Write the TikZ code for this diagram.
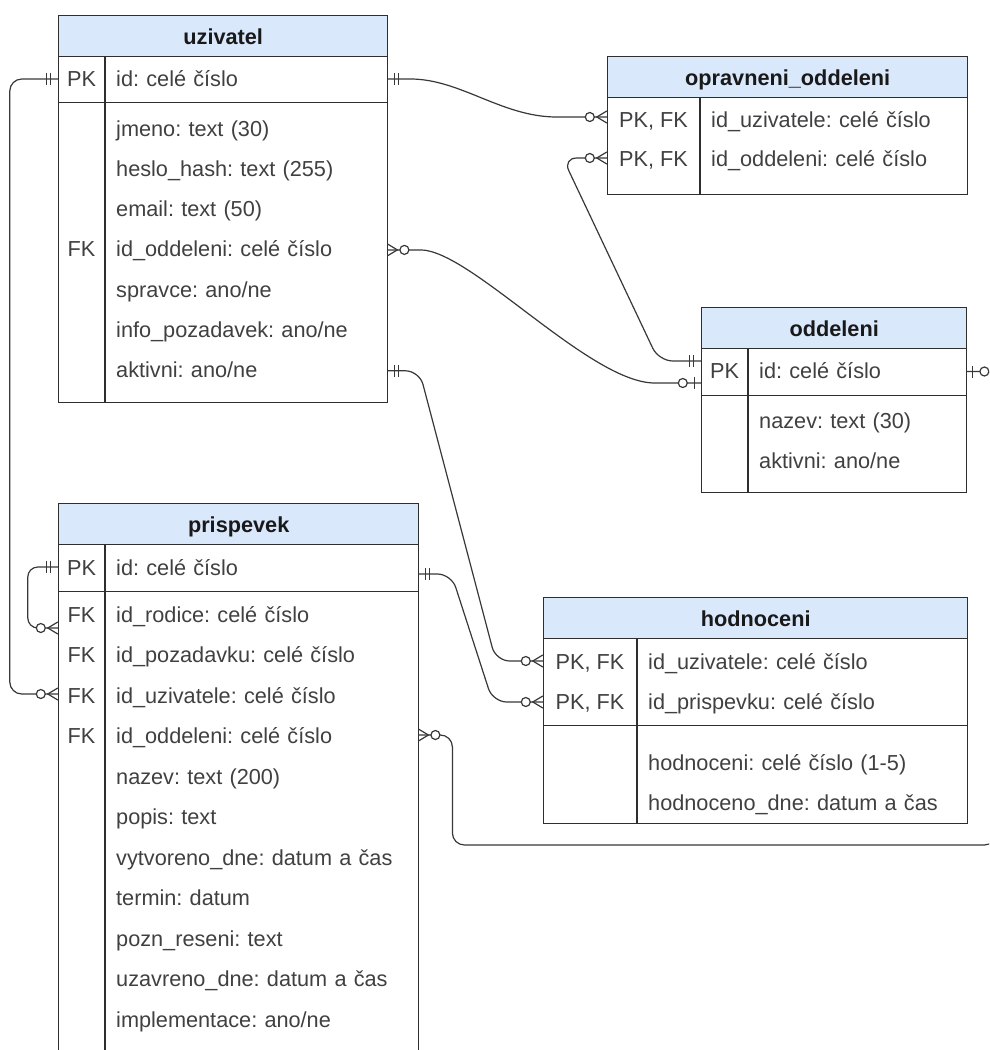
\documentclass[tikz,border=0pt]{standalone}
\usepackage{fontspec}
\setmainfont{Liberation Sans}
\usetikzlibrary{calc}
\definecolor{hdrfill}{HTML}{DAE8FC}
\definecolor{linec}{HTML}{2E2E2E}
\definecolor{txtc}{HTML}{404040}
\definecolor{conc}{HTML}{383838}
\newcommand{\erfont}{\fontsize{21.7}{26}\selectfont\frenchspacing}

\begin{document}
\begin{tikzpicture}[x=1pt,y=-1pt,
  frame/.style={draw=linec, line width=1.4pt, inner sep=0pt, anchor=north west},
  hdr/.style={frame, fill=hdrfill, font=\erfont\bfseries, text=black!90,
    text height=19pt, text depth=2pt},
  keyc/.style={inner sep=0pt, anchor=center, text=txtc, font=\erfont,
    text height=18pt, text depth=4pt},
  fld/.style={inner xsep=11pt, inner ysep=0pt, anchor=west, align=left,
    text=txtc, font=\erfont, text height=18pt, text depth=4pt},
  divl/.style={draw=linec, line width=1.4pt},
  conn/.style={draw=conc, line width=1.2pt},
  erline/.style={draw=conc, line width=1.2pt},
  pics/mandone/.style={code={
    \draw[erline] (7,-6) -- (7,6) (11,-6) -- (11,6);}},
  pics/zeromany/.style={code={
    \draw[erline] (0,-6) -- (10,0) -- (0,6);
    \draw[erline, fill=white] (17,0) circle[radius=4.5];}},
  pics/zeroone/.style={code={
    \draw[erline] (6,-6) -- (6,6);
    \draw[erline, fill=white] (18,0) circle[radius=4.5];}},
]
\clip (0,0) rectangle (989,1050);

% ---------- uzivatel ----------
\node[hdr, minimum width=329pt, minimum height=41pt] (uzH) at (58,15) {uzivatel};
\node[frame, minimum width=329pt, minimum height=46pt] (uzK) at (58,56) {};
\node[frame, minimum width=329pt, minimum height=300pt] (uzB) at (58,102) {};
\draw[divl] (105,56) -- (105,402);
\node[keyc, minimum width=47pt] (uzPKk) at (81.5,79) {PK};
\node[fld, text width=260pt] (uzId) at (105,79) {id: celé číslo};
\node[fld, text width=260pt] (uzJm) at (105,129) {jmeno: text (30)};
\node[fld, text width=260pt] (uzHe) at (105,169.3) {heslo\_hash: text (255)};
\node[fld, text width=260pt] (uzEm) at (105,209.6) {email: text (50)};
\node[keyc, minimum width=47pt] (uzFKk) at (81.5,249.9) {FK};
\node[fld, text width=260pt] (uzOdd) at (105,249.9) {id\_oddeleni: celé číslo};
\node[fld, text width=260pt] (uzSp) at (105,290.2) {spravce: ano/ne};
\node[fld, text width=260pt] (uzIn) at (105,330.5) {info\_pozadavek: ano/ne};
\node[fld, text width=260pt] (uzAkt) at (105,370.8) {aktivni: ano/ne};

% ---------- opravneni_oddeleni ----------
\node[hdr, minimum width=360pt, minimum height=41pt] (oprH) at (607,56) {opravneni\_oddeleni};
\node[frame, minimum width=360pt, minimum height=97pt] (oprK) at (607,97) {};
\draw[divl] (700,97) -- (700,194);
\node[keyc, minimum width=93pt] (oprUk) at (653.5,120) {PK, FK};
\node[fld, text width=245pt] (oprU) at (700,120) {id\_uzivatele: celé číslo};
\node[keyc, minimum width=93pt] (oprOk) at (653.5,159) {PK, FK};
\node[fld, text width=245pt] (oprO) at (700,159) {id\_oddeleni: celé číslo};

% ---------- oddeleni ----------
\node[hdr, minimum width=265pt, minimum height=41pt] (oddH) at (701,307) {oddeleni};
\node[frame, minimum width=265pt, minimum height=47pt] (oddK) at (701,348) {};
\node[frame, minimum width=265pt, minimum height=97pt] (oddB) at (701,395) {};
\draw[divl] (748,348) -- (748,492);
\node[keyc, minimum width=47pt] (oddPKk) at (724.5,371.5) {PK};
\node[fld, text width=196pt] (oddId) at (748,371.5) {id: celé číslo};
\node[fld, text width=196pt] (oddNa) at (748,421) {nazev: text (30)};
\node[fld, text width=196pt] (oddAk) at (748,461) {aktivni: ano/ne};

% ---------- prispevek ----------
\node[hdr, minimum width=360pt, minimum height=41pt] (prH) at (58,503) {prispevek};
\node[frame, minimum width=360pt, minimum height=47pt] (prK) at (58,544) {};
\node[frame, minimum width=360pt, minimum height=520pt] (prB) at (58,591) {};
\draw[divl] (105,544) -- (105,1111);
\node[keyc, minimum width=47pt] (prPKk) at (81.5,568) {PK};
\node[fld, text width=291pt] (prId) at (105,568) {id: celé číslo};
\node[keyc, minimum width=47pt] (prRodk) at (81.5,615) {FK};
\node[fld, text width=291pt] (prRod) at (105,615) {id\_rodice: celé číslo};
\node[keyc, minimum width=47pt] (prPozk) at (81.5,655.5) {FK};
\node[fld, text width=291pt] (prPoz) at (105,655.5) {id\_pozadavku: celé číslo};
\node[keyc, minimum width=47pt] (prUzk) at (81.5,696) {FK};
\node[fld, text width=291pt] (prUz) at (105,696) {id\_uzivatele: celé číslo};
\node[keyc, minimum width=47pt] (prOddk) at (81.5,736.5) {FK};
\node[fld, text width=291pt] (prOdd) at (105,736.5) {id\_oddeleni: celé číslo};
\node[fld, text width=291pt] (prNa) at (105,777) {nazev: text (200)};
\node[fld, text width=291pt] (prPo) at (105,817.5) {popis: text};
\node[fld, text width=291pt] (prVy) at (105,858) {vytvoreno\_dne: datum a čas};
\node[fld, text width=291pt] (prTe) at (105,898.5) {termin: datum};
\node[fld, text width=291pt] (prPr) at (105,939) {pozn\_reseni: text};
\node[fld, text width=291pt] (prUd) at (105,979.5) {uzavreno\_dne: datum a čas};
\node[fld, text width=291pt] (prIm) at (105,1020) {implementace: ano/ne};

% ---------- hodnoceni ----------
\node[hdr, minimum width=424pt, minimum height=41pt] (hodH) at (543,597) {hodnoceni};
\node[frame, minimum width=424pt, minimum height=87pt] (hodK) at (543,638) {};
\node[frame, minimum width=424pt, minimum height=98pt] (hodB) at (543,725) {};
\draw[divl] (637,638) -- (637,823);
\node[keyc, minimum width=94pt] (hodUk) at (590,662) {PK, FK};
\node[fld, text width=308pt] (hodU) at (637,662) {id\_uzivatele: celé číslo};
\node[keyc, minimum width=94pt] (hodPk) at (590,702) {PK, FK};
\node[fld, text width=308pt] (hodP) at (637,702) {id\_prispevku: celé číslo};
\node[fld, text width=308pt] (hodH1) at (637,763) {hodnoceni: celé číslo (1-5)};
\node[fld, text width=308pt] (hodH2) at (637,803) {hodnoceno\_dne: datum a čas};

% ---------- connector end points ----------
\coordinate (c1b) at ([yshift=3pt]oprUk.west);
\coordinate (c2b) at ([yshift=2pt]prUzk.west);
\coordinate (c3b) at ([yshift=-11.5pt]oddPKk.west);
\coordinate (c4a) at ([yshift=1pt]oprOk.west);
\coordinate (c4b) at ([yshift=10.5pt]oddPKk.west);
\coordinate (c5b) at ([yshift=1pt]hodUk.west);
\coordinate (c6a) at ([yshift=-6pt]prId.east);
\coordinate (c7a) at ([yshift=1pt]prPKk.west);
\coordinate (c7b) at ([yshift=-13pt]prRodk.west);
\coordinate (c8a) at ([yshift=1.5pt]prOdd.east);

% ---------- relationships ----------
\draw[conn] (uzId.east) -- ++(23,0) .. controls +(50,0) and +(-55,0) .. ([xshift=-50pt]c1b) -- (c1b);
\draw[conn, rounded corners=12pt] (uzPKk.west) -- ++(-48,0) |- (c2b);
\draw[conn] (uzOdd.east) -- ++(33,0) .. controls +(50,0) and +(-65,0) .. ([xshift=-46pt]c3b) -- (c3b);
\draw[conn, rounded corners=14pt] (c4a) -- ++(-44,0) -- ([xshift=-42pt]c4b) -- (c4b);
\draw[conn, rounded corners=14pt] (uzAkt.east) -- ++(32,0) -- ([xshift=-47pt]c5b) -- (c5b);
\draw[conn, rounded corners=14pt] (c6a) -- ++(33,0) -- ([xshift=-50pt]hodPk.west) -- (hodPk.west);
\draw[conn, rounded corners=10pt] (c7a) -- ++(-30,0) |- (c7b);
\draw[conn, rounded corners=12pt] (c8a) -- ++(34,0) -- ++(0,110) -| ([xshift=30pt]oddId.east) -- (oddId.east);

% ---------- cardinality marks ----------
\pic at (uzId.east) {mandone};
\pic[xscale=-1] at (c1b) {zeromany};
\pic[xscale=-1] at (uzPKk.west) {mandone};
\pic[xscale=-1] at (c2b) {zeromany};
\pic at (uzOdd.east) {zeromany};
\pic[xscale=-1] at (c3b) {zeroone};
\pic[xscale=-1] at (c4a) {zeromany};
\pic[xscale=-1] at (c4b) {mandone};
\pic at (uzAkt.east) {mandone};
\pic[xscale=-1] at (c5b) {zeromany};
\pic at (c6a) {mandone};
\pic[xscale=-1] at (hodPk.west) {zeromany};
\pic[xscale=-1] at (c7a) {mandone};
\pic[xscale=-1] at (c7b) {zeromany};
\pic at (c8a) {zeromany};
\pic at (oddId.east) {zeroone};
\end{tikzpicture}
\end{document}
